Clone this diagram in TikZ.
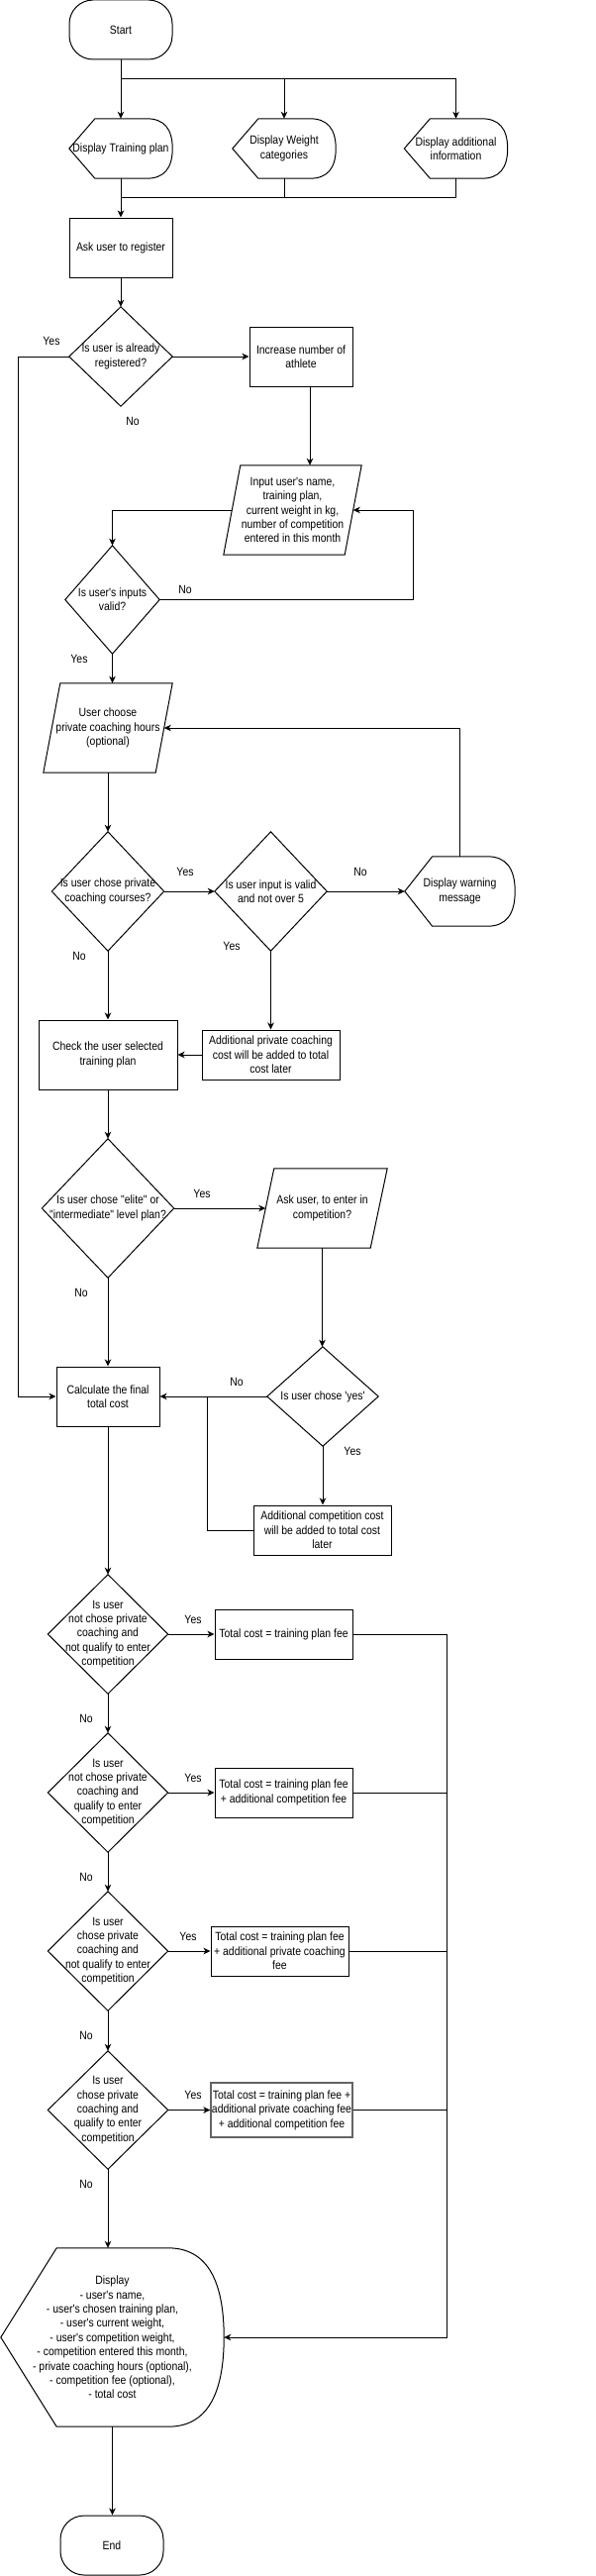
\documentclass[tikz,border=0pt]{standalone}
\usepackage{fontspec}
\newfontfamily\dfam{Liberation Sans}[FakeStretch=0.87]
\usetikzlibrary{arrows.meta,calc}
\newcommand\dfont{\dfam\fontsize{12pt}{14.4pt}\selectfont}
\newcommand\dispshape[1]{%
  \draw[shp] (#1.west) -- ($(#1.north west)!0.25!(#1.north east)$) coordinate (#1-a)
    -- ($(#1.north west)!0.75!(#1.north east)$) coordinate (#1-b)
    .. controls ($(#1-b)!0.6667!(#1.north east)$) and ($(#1.east)!0.6667!(#1.north east)$) .. (#1.east)
    .. controls ($(#1.east)!0.6667!(#1.south east)$) and ($($(#1.south west)!0.75!(#1.south east)$)!0.6667!(#1.south east)$) .. ($(#1.south west)!0.75!(#1.south east)$)
    -- ($(#1.south west)!0.25!(#1.south east)$) -- cycle;}
\newcommand\diashape[1]{%
  \draw[shp] (#1.north) -- (#1.east) -- (#1.south) -- (#1.west) -- cycle;}
\newcommand\parashape[2]{%
  \draw[shp] ([xshift=#2]#1.north west) -- (#1.north east) -- ([xshift=-#2]#1.south east) -- (#1.south west) -- cycle;}
\tikzset{
  base/.style={inner sep=0pt, align=center, font=\dfont, text=black},
  box/.style={base, rectangle, draw, line width=1pt},
  blank/.style={base, rectangle},
  term/.style={base, rectangle, draw, line width=1pt, rounded corners=24pt},
  sz/.style 2 args={minimum width=#1pt, minimum height=#2pt},
  shp/.style={draw=black, line width=1pt},
  ln/.style={draw=black, line width=1pt},
  arr/.style={draw=black, line width=1pt, -{Stealth[length=7pt,width=6.5pt,inset=2pt]}},
  lbl/.style={base}
}
\begin{document}
\begin{tikzpicture}[x=1pt,y=-1pt]
\fill[white] (0,0) rectangle (602,2601);
\useasboundingbox (0,0) rectangle (602,2601);

% ---- nodes ----
\node[term,sz={104}{60}] (start) at (122,30) {Start};
\node[blank,sz={104}{60}] (disp1) at (122,150) {Display Training plan};
\node[blank,sz={104}{60}] (disp2) at (287,150) {Display Weight\\categories};
\node[blank,sz={104}{60}] (disp3) at (460.5,150) {Display additional\\information};
\node[box,sz={104}{60}] (reg) at (122,250) {Ask user to register};
\node[blank,sz={104}{100}] (q1) at (122,360) {Is user is already\\registered?};
\node[box,sz={104}{60}] (inc) at (304,360) {Increase number of\\athlete};
\node[blank,sz={139}{90}] (inp) at (295.5,515) {Input user's name,\\training plan,\\current weight in kg,\\number of competition\\entered in this month};
\node[blank,sz={95}{109}] (q2) at (113.5,605.5) {Is user's inputs\\valid?};
\node[blank,sz={130}{90}] (pch) at (109,735) {User choose\\private coaching hours\\(optional)};
\node[blank,sz={113}{120}] (q3) at (109,900) {Is user chose private\\coaching courses?};
\node[blank,sz={113}{120}] (q4) at (273.5,900) {Is user input is valid\\and not over 5};
\node[blank,sz={111}{70}] (warn) at (464.5,900) {Display warning\\message};
\node[box,sz={139}{50}] (addpc) at (273.5,1065) {Additional private coaching\\cost will be added to total\\cost later};
\node[box,sz={140}{70}] (chk) at (109,1065) {Check the user selected\\training plan};
\node[blank,sz={133}{140}] (q5) at (109,1220) {Is user chose "elite" or\\"intermediate" level plan?};
\node[blank,sz={131}{80}] (ask) at (325.5,1220) {Ask user, to enter in\\competition?};
\node[box,sz={104}{60}] (calc) at (109,1410) {Calculate the final\\total cost};
\node[blank,sz={112}{100}] (q6) at (326,1410) {Is user chose 'yes'};
\node[box,sz={139}{50}] (addc) at (325.5,1545) {Additional competition cost\\will be added to total cost\\later};
\node[blank,sz={121}{120}] (c1) at (109,1650) {Is user\\not chose private\\coaching and\\not qualify to enter\\competition};
\node[box,sz={139}{50}] (t1) at (286.5,1650) {Total cost = training plan fee};
\node[blank,sz={121}{120}] (c2) at (109,1810) {Is user\\not chose private\\coaching and\\qualify to enter\\competition};
\node[box,sz={139}{50}] (t2) at (286.5,1810) {Total cost = training plan fee\\+ additional competition fee};
\node[blank,sz={121}{120}] (c3) at (109,1970) {Is user\\chose private\\coaching and\\not qualify to enter\\competition};
\node[box,sz={139}{50}] (t3) at (282.5,1970) {Total cost = training plan fee\\+ additional private coaching\\fee};
\node[blank,sz={121}{119}] (c4) at (109,2130.5) {Is user\\chose private\\coaching and\\qualify to enter\\competition};
\node[box,sz={143}{55},draw={rgb,255:red,100;green,100;blue,100},line width=1.3pt] (t4) at (284.5,2130.5) {Total cost = training plan fee +\\additional private coaching fee\\+ additional competition fee};
\node[blank,sz={225}{180}] (out) at (113.5,2360) {Display\\- user's name,\\- user's chosen training plan,\\- user's current weight,\\- user's competition weight,\\- competition entered this month,\\- private coaching hours (optional),\\- competition fee (optional),\\- total cost};
\node[term,sz={104}{60}] (end) at (113,2570) {End};

% ---- outlines ----
\dispshape{disp1}
\dispshape{disp2}
\dispshape{disp3}
\dispshape{warn}
\dispshape{out}
\diashape{q1}
\diashape{q2}
\diashape{q3}
\diashape{q4}
\diashape{q5}
\diashape{q6}
\diashape{c1}
\diashape{c2}
\diashape{c3}
\diashape{c4}
\parashape{inp}{17pt}
\parashape{pch}{17pt}
\parashape{ask}{17pt}

% ---- connectors ----
\coordinate (j1) at (122,80);
\coordinate (j2) at (122,200);
\draw[ln] (start.south) -- (j1);
\draw[arr] (j1) -- (disp1.north);
\draw[arr] (j1) -| (disp2.north);
\draw[arr] (j1) -| (disp3.north);
\draw[ln] (disp1.south) -- (j2);
\draw[ln] (disp2.south) |- (j2);
\draw[ln] (disp3.south) |- (j2);
\draw[arr] (j2) -- (reg.north);
\draw[arr] (reg.south) -- (q1.north);
\draw[arr] (q1.east) -- (inc.west);
\coordinate (yl) at (18,360);
\draw[arr] (q1.west) -- (yl) |- (calc.west);
\draw[arr] ([xshift=9pt]inc.south) -- ([xshift=9pt]inc.south |- inp.north);
\draw[arr] ([xshift=8.5pt]inp.west) -| (q2.north);
\coordinate (r2) at (417,605.5);
\draw[arr] (q2.east) -- (r2) |- ([xshift=-8.5pt]inp.east);
\draw[arr] (q2.south) -- (q2.south |- pch.north);
\draw[arr] (pch.south) -- (q3.north);
\draw[arr] (warn.north) |- ([xshift=-8.5pt]pch.east);
\draw[arr] (q3.east) -- (q4.west);
\draw[arr] (q4.east) -- (warn.west);
\draw[arr] (q4.south) -- (addpc.north);
\draw[arr] (addpc.west) -- (chk.east);
\draw[arr] (q3.south) -- (chk.north);
\draw[arr] (chk.south) -- (q5.north);
\draw[arr] (q5.east) -- ([xshift=8.5pt]ask.west);
\draw[arr] (q5.south) -- (calc.north);
\draw[arr] (ask.south) -- (ask.south |- q6.north);
\draw[arr] (q6.west) -- (calc.east);
\draw[arr] (q6.south) -- (q6.south |- addc.north);
\coordinate (j3) at (209,1410);
\draw[ln] (addc.west) -| (j3);
\draw[arr] (calc.south) -- (c1.north);
\draw[arr] (c1.east) -- (t1.west);
\draw[arr] (c1.south) -- (c2.north);
\draw[arr] (c2.east) -- (t2.west);
\draw[arr] (c2.south) -- (c3.north);
\draw[arr] (c3.east) -- (t3.west);
\draw[arr] (c3.south) -- (c4.north);
\draw[arr] (c4.east) -- (t4.west);
\draw[arr] (c4.south) -- (c4.south |- out.north);
\coordinate (rail) at (451,1650);
\draw[ln] (t1.east) -- (rail);
\draw[ln] (t2.east) -- (t2.east -| rail);
\draw[ln] (t3.east) -- (t3.east -| rail);
\draw[ln] (t4.east) -- (t4.east -| rail);
\draw[arr] (rail) |- (out.east);
\draw[arr] (out.south) -- (out.south |- end.north);

% ---- labels ----
\node[lbl] (l1) at (52,344) {Yes};
\node[lbl] (l2) at (134,425) {No};
\node[lbl] (l3) at (187,595) {No};
\node[lbl] (l4) at (80,665) {Yes};
\node[lbl] (l5) at (187,880) {Yes};
\node[lbl] (l6) at (364,880) {No};
\node[lbl] (l7) at (234,955) {Yes};
\node[lbl] (l8) at (80,965) {No};
\node[lbl] (l9) at (204,1205) {Yes};
\node[lbl] (l10) at (82,1305) {No};
\node[lbl] (l11) at (239,1395) {No};
\node[lbl] (l12) at (356,1465) {Yes};
\node[lbl] (l13) at (195,1635) {Yes};
\node[lbl] (l14) at (87,1735) {No};
\node[lbl] (l15) at (195,1795) {Yes};
\node[lbl] (l16) at (87,1895) {No};
\node[lbl] (l17) at (190,1955) {Yes};
\node[lbl] (l18) at (87,2055) {No};
\node[lbl] (l19) at (195,2115) {Yes};
\node[lbl] (l20) at (87,2205) {No};
\end{tikzpicture}
\end{document}
